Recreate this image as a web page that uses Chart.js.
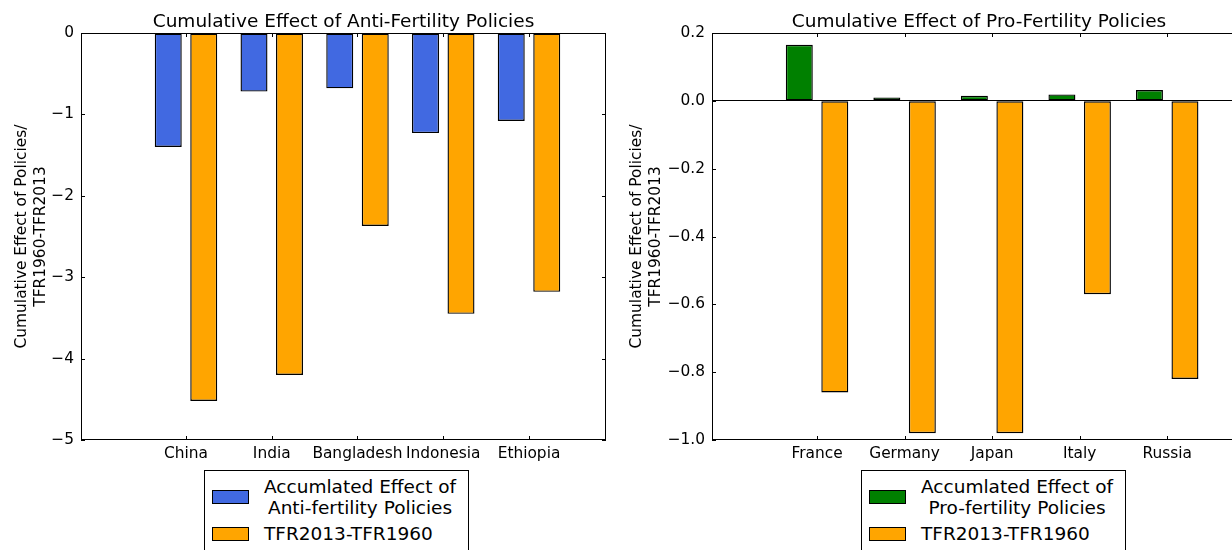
<!DOCTYPE html>
<html>
<head>
<meta charset="utf-8">
<script src="https://cdn.jsdelivr.net/npm/chart.js@4"></script>
<style>
  body { margin: 0; width: 1232px; height: 550px; overflow: hidden; position: relative; background: #fff; font-family: "DejaVu Sans", sans-serif; }
  .panel { position: absolute; top: 0; height: 550px; }
  .legend { position: absolute; top: 470px; height: 100px; border: 1px solid #000; box-sizing: border-box; padding: 5px 12px 0 7px; background: #fff; font-size: 18.5px; color: #000; }
  .item { display: flex; align-items: center; }
  .item + .item { margin-top: 5px; }
  .swatch { width: 37px; height: 14px; border: 1px solid #000; box-sizing: border-box; margin-right: 15px; flex: none; }
  .text { text-align: center; line-height: 21px; white-space: nowrap; }
</style>
</head>
<body>
<div class="panel" style="left:0;width:616px"><canvas id="anti" width="616" height="550" style="width:616px;height:550px"></canvas></div>
<div class="panel" style="left:616px;width:640px"><canvas id="pro" width="640" height="550" style="width:640px;height:550px"></canvas></div>
<div class="legend" id="antiLegend" style="left:204px"></div>
<div class="legend" id="proLegend" style="left:861px"></div>
<script>
// anti-fertility countries
const antiCountries = ['China', 'India', 'Bangladesh', 'Indonesia', 'Ethiopia'];
const antiPolicy = [-1.40, -0.72, -0.68, -1.23, -1.08];
const antiTfr = [-4.52, -4.20, -2.37, -3.45, -3.18];
const antiYTicks = [0, -1, -2, -3, -4, -5];

// pro-fertility countries
const proCountries = ['France', 'Germany', 'Japan', 'Italy', 'Russia'];
const proPolicy = [0.165, 0.010, 0.015, 0.019, 0.032];
const proTfr = [-0.86, -0.98, -0.98, -0.57, -0.82];
const proYTicks = [0.2, 0.0, -0.2, -0.4, -0.6, -0.8, -1.0];

const tfrLabel = 'TFR2013-TFR1960';
const yTitle = ['Cumulative Effect of Policies/', 'TFR1960-TFR2013'];

Chart.defaults.font.family = '"DejaVu Sans"';
Chart.defaults.color = '#000';

// matplotlib style box, inward ticks and title over the plot
const framePlugin = {
  id: 'frame',
  afterDatasetsDraw(chart, args, opts) {
    const {ctx, chartArea: a, scales: {x, y}} = chart;
    ctx.save();
    ctx.strokeStyle = '#000';
    ctx.lineWidth = 1;
    ctx.strokeRect(a.left + 0.5, a.top + 0.5, a.right - a.left - 1, a.bottom - a.top - 1);
    ctx.beginPath();
    x.ticks.forEach(t => {
      const px = Math.round(x.getPixelForValue(t.value)) + 0.5;
      ctx.moveTo(px, a.bottom); ctx.lineTo(px, a.bottom - 4);
      ctx.moveTo(px, a.top); ctx.lineTo(px, a.top + 4);
    });
    y.ticks.forEach(t => {
      const py = Math.round(y.getPixelForValue(t.value)) + 0.5;
      ctx.moveTo(a.left, py); ctx.lineTo(a.left + 4, py);
      ctx.moveTo(a.right, py); ctx.lineTo(a.right - 4, py);
    });
    ctx.stroke();
    ctx.fillStyle = '#000';
    ctx.font = '18.5px "DejaVu Sans"';
    ctx.textAlign = 'center';
    ctx.textBaseline = 'alphabetic';
    ctx.fillText(opts.title, (a.left + a.right) / 2, 27);
    ctx.restore();
  }
};

function fmt(v, dec) {
  return (v < 0 ? '\u2212' : '') + Math.abs(v).toFixed(dec);
}

function makeChart(id, cats, policy, tfr, policyColor, policyLabel, yTicks, dec, o) {
  const bar = {borderColor: '#000', borderWidth: 1.4, borderSkipped: false, inflateAmount: 0,
               categoryPercentage: o.catPct, barPercentage: 0.76};
  return new Chart(document.getElementById(id), {
    type: 'bar',
    data: {
      datasets: [
        Object.assign({label: policyLabel, backgroundColor: policyColor,
          data: cats.map((c, i) => ({x: i, y: policy[i]}))}, bar),
        Object.assign({label: tfrLabel, backgroundColor: '#FFA500',
          data: cats.map((c, i) => ({x: i, y: tfr[i]}))}, bar)
      ]
    },
    options: {
      responsive: false,
      animation: false,
      devicePixelRatio: 1,
      layout: {padding: {top: 33, right: o.padRight, bottom: 0, left: 0}},
      plugins: {legend: {display: false}, tooltip: {enabled: false}, frame: {title: o.title}},
      scales: {
        x: {
          type: 'linear', min: o.xMin, max: o.xMax, offset: false,
          grid: {display: false, drawTicks: false, offset: false}, border: {display: false},
          afterBuildTicks: s => { s.ticks = cats.map((c, i) => ({value: i})); },
          afterFit: s => { s.height = 110; },
          ticks: {autoSkip: false, maxRotation: 0, padding: 5, font: {size: 15.4},
                  callback: v => cats[v]}
        },
        y: {
          min: Math.min(...yTicks), max: Math.max(...yTicks),
          afterBuildTicks: s => { s.ticks = yTicks.map(v => ({value: v})); },
          afterFit: s => { s.width = o.yWidth; },
          grid: {drawTicks: false, color: c => (c.tick && c.tick.value === 0) ? '#000' : 'rgba(0,0,0,0)'},
          border: {display: false},
          ticks: {padding: 7, font: {size: 15.4}, callback: v => fmt(v, dec)},
          title: {display: true, text: yTitle, font: {size: 15.4, lineHeight: 1.2},
                  padding: {top: o.titlePad, bottom: 0}}
        }
      }
    },
    plugins: [framePlugin]
  });
}

function fillLegend(elId, chart) {
  const el = document.getElementById(elId);
  chart.data.datasets.forEach(ds => {
    const item = document.createElement('div');
    item.className = 'item';
    const sw = document.createElement('div');
    sw.className = 'swatch';
    sw.style.background = ds.backgroundColor;
    const tx = document.createElement('div');
    tx.className = 'text';
    ds.label.split('\n').forEach((line, i) => {
      if (i) tx.appendChild(document.createElement('br'));
      tx.appendChild(document.createTextNode(line));
    });
    item.appendChild(sw);
    item.appendChild(tx);
    el.appendChild(item);
  });
}

const antiChart = makeChart('anti', antiCountries, antiPolicy, antiTfr, '#4169E1',
  'Accumlated Effect of\nAnti-fertility Policies', antiYTicks, 0,
  {title: 'Cumulative Effect of Anti-Fertility Policies', xMin: -1.2245, xMax: 4.898,
   catPct: 0.828, padRight: 10, yWidth: 81, titlePad: 13});

const proChart = makeChart('pro', proCountries, proPolicy, proTfr, '#008000',
  'Accumlated Effect of\nPro-fertility Policies', proYTicks, 1,
  {title: 'Cumulative Effect of Pro-Fertility Policies', xMin: -1.2, xMax: 4.9,
   catPct: 0.811, padRight: 10, yWidth: 96, titlePad: 12});

fillLegend('antiLegend', antiChart);
fillLegend('proLegend', proChart);
</script>
</body>
</html>
